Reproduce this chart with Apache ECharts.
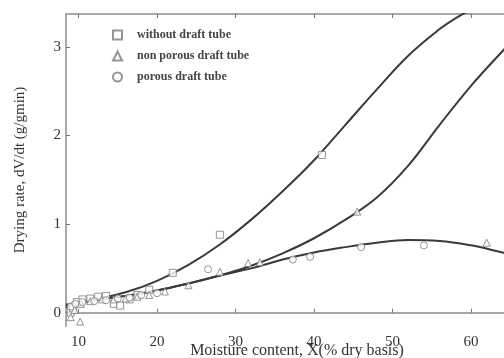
<!DOCTYPE html>
<html>
<head>
<meta charset="utf-8">
<script src="https://cdn.jsdelivr.net/npm/echarts@6/dist/echarts.min.js"></script>
<style>
  html, body { margin: 0; padding: 0; background: #fff; }
  #chart { width: 504px; height: 358px; }
</style>
</head>
<body>
<div id="chart"></div>
<script>
// measured points
var sqX  = [9.0, 9.3, 9.8, 10.5, 11.5, 12.5, 13.5, 14.5, 15.3, 16.5, 17.5, 19, 22, 28, 41];
var sqY  = [0.0, 0.05, 0.12, 0.15, 0.16, 0.18, 0.19, 0.10, 0.08, 0.15, 0.20, 0.26, 0.45, 0.88, 1.78];
var triX = [9.0, 9.5, 10.2, 10.3, 11.5, 13, 14.5, 16, 17.5, 19, 21, 24, 28, 31.6, 33.1, 45.5, 62];
var triY = [-0.05, 0.03, -0.10, 0.10, 0.13, 0.15, 0.15, 0.16, 0.18, 0.20, 0.24, 0.31, 0.46, 0.56, 0.57, 1.14, 0.79];
var cirX = [9.0, 9.6, 10.5, 12, 13.5, 15, 16.5, 18, 20, 26.5, 37.3, 39.5, 46, 54];
var cirY = [0.07, 0.10, 0.12, 0.13, 0.14, 0.16, 0.17, 0.20, 0.22, 0.49, 0.60, 0.63, 0.74, 0.76];

// fitted curves
var fitX1 = [8.4, 12, 16, 20, 24, 28, 32, 36, 40, 44, 48, 52, 56, 58, 60];
var fitY1 = [0.09, 0.15, 0.23, 0.36, 0.54, 0.77, 1.05, 1.37, 1.72, 2.12, 2.52, 2.9, 3.2, 3.32, 3.42];
var fitX2 = [8.4, 12, 16, 20, 24, 28, 32, 36, 40, 44, 48, 52, 56, 60, 64, 65];
var fitY2 = [0.06, 0.14, 0.19, 0.25, 0.33, 0.42, 0.53, 0.67, 0.84, 1.05, 1.3, 1.66, 2.12, 2.56, 2.95, 3.04];
var fitX3 = [8.4, 12, 16, 20, 24, 28, 32, 36, 40, 44, 48, 52, 56, 60, 64, 65];
var fitY3 = [0.08, 0.14, 0.19, 0.25, 0.33, 0.42, 0.50, 0.60, 0.68, 0.74, 0.79, 0.82, 0.81, 0.76, 0.68, 0.66];

var xTicks = [10, 20, 30, 40, 50, 60];
var yTicks = [0, 1, 2, 3];
var names = ['without draft tube', 'non porous draft tube', 'porous draft tube'];

function pairs(xs, ys) {
  return xs.map(function (x, i) { return [x, ys[i]]; });
}

var serif = '"Liberation Serif", "DejaVu Serif", serif';
var axisGray = '#a8a8a8';

function fit(xs, ys) {
  return {
    type: 'line', data: pairs(xs, ys), smooth: 0.4, showSymbol: false,
    lineStyle: { color: '#3a3a3a', width: 2 }, z: 3, silent: true
  };
}
function pts(name, sym, xs, ys) {
  return {
    name: name, type: 'scatter', data: pairs(xs, ys),
    symbol: sym, symbolSize: 7,
    itemStyle: { color: '#fff', borderColor: '#7a7a7a', borderWidth: 1 }, z: 4
  };
}

var chart = echarts.init(document.getElementById('chart'));
chart.setOption({
  animation: false,
  textStyle: { fontFamily: serif },
  grid: { left: 66, right: 0, top: 14, bottom: 32, outerBoundsMode: 'none' },
  legend: {
    data: names, orient: 'vertical', left: 107, top: 24,
    itemWidth: 9, itemHeight: 9, itemGap: 9,
    textStyle: { fontFamily: serif, fontSize: 12, fontWeight: 'bold', color: '#444', padding: [0, 0, 0, 10] }
  },
  xAxis: [{
    type: 'value', min: 8.4, max: 64.2,
    name: 'Moisture content, X(% dry basis)', nameLocation: 'middle', nameGap: 17,
    nameMoveOverlap: false,
    nameTextStyle: { fontFamily: serif, fontSize: 16, color: '#333', padding: [0, 0, 0, 24] },
    axisLine: { lineStyle: { color: axisGray, width: 2 } },
    axisTick: { inside: true, length: 4, customValues: xTicks, lineStyle: { color: '#777' } },
    axisLabel: { customValues: xTicks, fontSize: 15, color: '#333', margin: 9 },
    splitLine: { show: false }
  }, {
    type: 'value', position: 'top', min: 8.4, max: 64.2,
    axisLine: { lineStyle: { color: axisGray, width: 2 } },
    axisTick: { inside: true, length: 4, customValues: xTicks, lineStyle: { color: '#777' } },
    axisLabel: { show: false },
    splitLine: { show: false }
  }],
  yAxis: {
    type: 'value', min: -0.15, max: 3.37,
    name: 'Drying rate, dV/dt (g/gmin)', nameLocation: 'middle', nameGap: 38,
    nameMoveOverlap: false,
    nameTextStyle: { fontFamily: serif, fontSize: 15, color: '#333' },
    axisLine: { show: true, lineStyle: { color: axisGray, width: 2 } },
    axisTick: { show: true, inside: true, length: 4, customValues: yTicks, lineStyle: { color: '#777' } },
    axisLabel: { customValues: yTicks, fontSize: 15, color: '#333', margin: 5 },
    splitLine: { show: false }
  },
  series: [
    fit(fitX1, fitY1),
    fit(fitX2, fitY2),
    fit(fitX3, fitY3),
    pts(names[0], 'rect', sqX, sqY),
    pts(names[1], 'triangle', triX, triY),
    pts(names[2], 'circle', cirX, cirY)
  ]
});
</script>
</body>
</html>
